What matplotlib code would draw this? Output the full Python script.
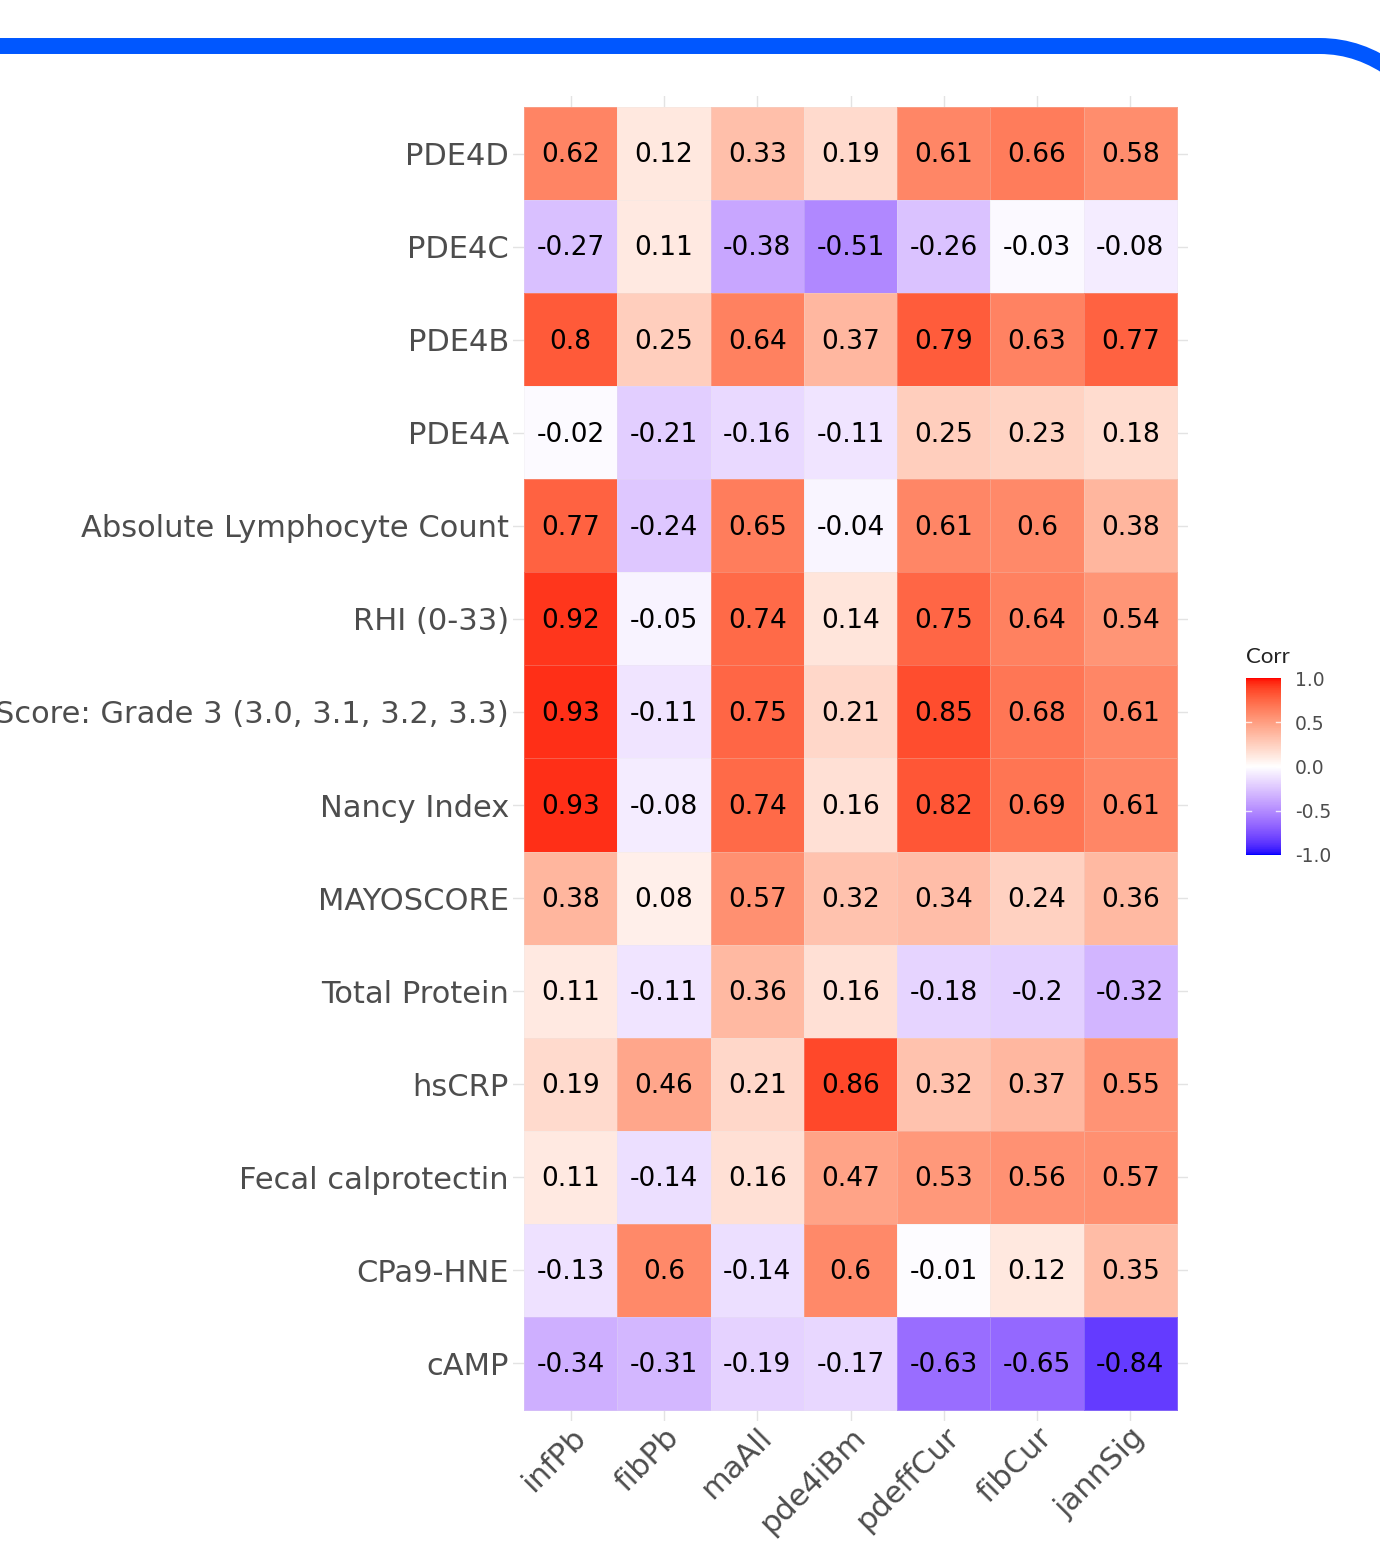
import numpy as np
import matplotlib
matplotlib.use("Agg")
import matplotlib.pyplot as plt
from matplotlib.colors import ListedColormap, Normalize
from matplotlib.path import Path
from matplotlib.patches import PathPatch

rows = ["PDE4D", "PDE4C", "PDE4B", "PDE4A", "Absolute Lymphocyte Count",
        "RHI (0-33)", "Score: Grade 3 (3.0, 3.1, 3.2, 3.3)", "Nancy Index",
        "MAYOSCORE", "Total Protein", "hsCRP", "Fecal calprotectin",
        "CPa9-HNE", "cAMP"]
cols = ["infPb", "fibPb", "maAll", "pde4iBm", "pdeffCur", "fibCur", "jannSig"]

pde4d = [0.62, 0.12, 0.33, 0.19, 0.61, 0.66, 0.58]
pde4c = [-0.27, 0.11, -0.38, -0.51, -0.26, -0.03, -0.08]
pde4b = [0.8, 0.25, 0.64, 0.37, 0.79, 0.63, 0.77]
pde4a = [-0.02, -0.21, -0.16, -0.11, 0.25, 0.23, 0.18]
alc = [0.77, -0.24, 0.65, -0.04, 0.61, 0.6, 0.38]
rhi = [0.92, -0.05, 0.74, 0.14, 0.75, 0.64, 0.54]
grade3 = [0.93, -0.11, 0.75, 0.21, 0.85, 0.68, 0.61]
nancy = [0.93, -0.08, 0.74, 0.16, 0.82, 0.69, 0.61]
mayo = [0.38, 0.08, 0.57, 0.32, 0.34, 0.24, 0.36]
tprot = [0.11, -0.11, 0.36, 0.16, -0.18, -0.2, -0.32]
hscrp = [0.19, 0.46, 0.21, 0.86, 0.32, 0.37, 0.55]
fecal = [0.11, -0.14, 0.16, 0.47, 0.53, 0.56, 0.57]
cpa9 = [-0.13, 0.6, -0.14, 0.6, -0.01, 0.12, 0.35]
camp = [-0.34, -0.31, -0.19, -0.17, -0.63, -0.65, -0.84]

data = np.array([pde4d, pde4c, pde4b, pde4a, alc, rhi, grade3, nancy,
                 mayo, tprot, hscrp, fecal, cpa9, camp])

# ---- Lab-space diverging palette (blue - white - red) ----
def srgb_to_lab(c):
    c = np.asarray(c, float)
    lin = np.where(c <= 0.04045, c / 12.92, ((c + 0.055) / 1.055) ** 2.4)
    M = np.array([[0.4124, 0.3576, 0.1805],
                  [0.2126, 0.7152, 0.0722],
                  [0.0193, 0.1192, 0.9505]])
    xyz = M @ lin
    wp = np.array([0.95047, 1.0, 1.08883])
    t = xyz / wp
    f = np.where(t > (6/29)**3, np.cbrt(t), t / (3*(6/29)**2) + 4/29)
    return np.array([116*f[1]-16, 500*(f[0]-f[1]), 200*(f[1]-f[2])])

def lab_to_srgb(lab):
    L, a, b = lab
    fy_ = (L + 16) / 116
    fx_ = fy_ + a / 500
    fz_ = fy_ - b / 200
    def finv(t):
        return np.where(t > 6/29, t**3, 3*(6/29)**2*(t - 4/29))
    wp = np.array([0.95047, 1.0, 1.08883])
    xyz = np.array([finv(fx_), finv(fy_), finv(fz_)]) * wp
    Minv = np.array([[3.2406, -1.5372, -0.4986],
                     [-0.9689, 1.8758, 0.0415],
                     [0.0557, -0.2040, 1.0570]])
    lin = np.clip(Minv @ xyz, 0, 1)
    s = np.where(lin <= 0.0031308, 12.92*lin, 1.055*lin**(1/2.4) - 0.055)
    return np.clip(s, 0, 1)

lab_blue = srgb_to_lab([0, 0, 1])
lab_white = srgb_to_lab([1, 1, 1])
lab_red = srgb_to_lab([1, 0, 0])
N = 256
colors = []
for v in np.linspace(-1, 1, N):
    if v < 0:
        lab = lab_white + (lab_blue - lab_white) * (-v)
    else:
        lab = lab_white + (lab_red - lab_white) * v
    colors.append(lab_to_srgb(lab))
cmap = ListedColormap(colors)
norm = Normalize(-1, 1)

W, H = 1380, 1543
fig = plt.figure(figsize=(W/100, H/100), dpi=100)

def fx(px): return px / W
def fy(py): return 1 - py / H

# ---- top blue decorative line ----
verts = [(fx(-20), fy(46)), (fx(1320), fy(46)),
         (fx(1360), fy(46)), (fx(1395), fy(72))]
codes = [Path.MOVETO, Path.LINETO, Path.CURVE3, Path.CURVE3]
fig.add_artist(PathPatch(Path(verts, codes), transform=fig.transFigure,
                         fill=False, edgecolor="#0057FF", linewidth=11.5,
                         capstyle="butt"))

# ---- heatmap ----
cell_l, cell_r, cell_t, cell_b = 524, 1177, 107, 1410
m = 11
ax = fig.add_axes([fx(cell_l - m), fy(cell_b + m),
                   (cell_r - cell_l + 2*m) / W, (cell_b - cell_t + 2*m) / H])
nr, nc = data.shape
mg = m / ((cell_r - cell_l) / nc)
ax.set_xlim(-0.5 - mg, nc - 0.5 + mg)
ax.set_ylim(nr - 0.5 + mg, -0.5 - mg)
ax.set_xticks(range(nc))
ax.set_yticks(range(nr))
ax.grid(True, color="#E3E3E3", linewidth=1.0, zorder=0)
ax.set_axisbelow(True)
ax.pcolormesh(np.arange(nc + 1) - 0.5, np.arange(nr + 1) - 0.5, data,
              cmap=cmap, norm=norm, edgecolor=(0.9, 0.9, 0.9, 0.25),
              linewidth=0.6, zorder=2)
for i in range(nr):
    for j in range(nc):
        ax.text(j, i + 0.02, f"{data[i, j]:g}", ha="center", va="center",
                fontsize=19, color="black", zorder=3)
for s in ax.spines.values():
    s.set_visible(False)
ax.tick_params(length=0, colors="#4D4D4D", labelsize=22)
ax.tick_params(axis="y", pad=3)
ax.set_yticklabels(rows)
ax.set_xticklabels(cols, rotation=45, ha="right", rotation_mode="anchor")
ax.tick_params(axis="x", pad=1)

# ---- colorbar ----
cax = fig.add_axes([fx(1246), fy(855), 35 / W, (855 - 678) / H])
sm = matplotlib.cm.ScalarMappable(norm=norm, cmap=cmap)
cb = fig.colorbar(sm, cax=cax, ticks=[-1, -0.5, 0, 0.5, 1])
cb.outline.set_visible(False)
cb.set_ticklabels(["-1.0", "-0.5", "0.0", "0.5", "1.0"])
cax.tick_params(length=0, pad=10, labelsize=13.5, colors="#4D4D4D")
for v in [-0.5, 0, 0.5]:
    cax.plot([0, 0.15], [v, v], color="white", lw=1, alpha=0.8)
    cax.plot([0.85, 1], [v, v], color="white", lw=1, alpha=0.8)
fig.text(fx(1246), fy(657), "Corr", fontsize=16, color="#222222",
         ha="left", va="center", family="Lato")

fig.savefig("out.png", dpi=100)
